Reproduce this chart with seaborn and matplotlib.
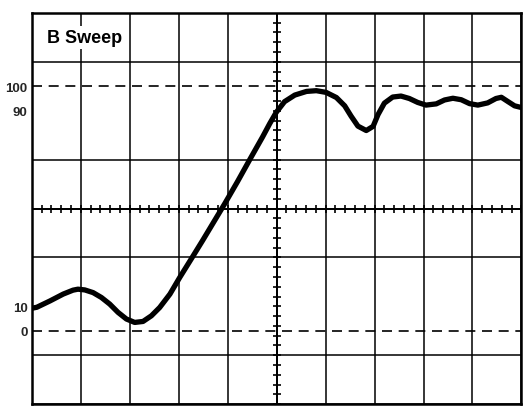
import numpy as np
import matplotlib
matplotlib.use("Agg")
import matplotlib.pyplot as plt
import seaborn as sns

# === trace (x in divisions, y in percent) ===
TRACE_X = [0.00, 0.10, 0.37, 0.64, 0.84, 0.94, 1.08, 1.25, 1.42, 1.59,
           1.76, 1.93, 2.10, 2.27, 2.44, 2.61, 2.82, 3.02, 3.29, 3.49,
           3.94, 4.20, 4.45, 4.71, 4.86, 4.99, 5.16, 5.37, 5.61, 5.81,
           6.01, 6.22, 6.39, 6.52, 6.66, 6.83, 6.97, 7.07, 7.20, 7.37,
           7.54, 7.71, 7.88, 8.05, 8.26, 8.43, 8.60, 8.77, 8.94, 9.11,
           9.31, 9.48, 9.59, 9.72, 9.86, 10.00]
TRACE_Y = [9.2, 9.6, 12.2, 15.0, 16.6, 17.0, 16.7, 15.6, 13.6, 10.9,
           7.5, 4.8, 3.4, 3.8, 6.1, 9.5, 15.0, 21.8, 30.5, 37.0,
           52.0, 61.0, 70.0, 79.2, 84.8, 89.3, 93.7, 96.4, 97.9, 98.2,
           97.5, 95.4, 92.0, 87.8, 83.7, 81.9, 83.6, 88.4, 93.1, 95.6,
           96.0, 95.0, 93.4, 92.3, 92.8, 94.4, 95.1, 94.5, 92.9, 92.3,
           93.2, 95.0, 95.5, 93.8, 92.0, 91.3]

LEVEL_TICKS = [0, 10, 90, 100]
LEVEL_LABELS = ["0", "10", "90", "100"]
REF_LEVELS = [0, 100]          # dashed reference lines
TITLE = "B Sweep"

# graticule: 10 x 8 divisions, one division = 20 %
X_MIN, X_MAX = 0, 10
Y_MIN, Y_MAX = -30, 130

sns.set_style("white")
plt.rcParams["font.family"] = ["Liberation Sans", "DejaVu Sans"]

fig = plt.figure(figsize=(5.23, 4.10), dpi=100)
ax = fig.add_axes([0.061, 0.012, 0.936, 0.954])

# grid lines on minor ticks
ax.set_xticks(np.arange(X_MIN, X_MAX + 1, 1), minor=True)
ax.set_yticks(np.arange(Y_MIN, Y_MAX + 1, 20), minor=True)
ax.grid(which="minor", color="black", lw=1.1)
ax.grid(which="major", visible=False)
ax.set_xticks([])
ax.set_yticks(LEVEL_TICKS)
ax.set_yticklabels(LEVEL_LABELS, fontsize=9.5, fontweight="bold")
ax.tick_params(axis="both", which="both", length=0)
ax.tick_params(axis="y", pad=3)

# center crosshair with fine marks
xc = (X_MIN + X_MAX) / 2
yc = (Y_MIN + Y_MAX) / 2
ax.axvline(xc, color="black", lw=1.4)
ax.axhline(yc, color="black", lw=1.4)
fine_x = np.arange(X_MIN, X_MAX + 0.01, 0.2)
fine_y = np.arange(Y_MIN, Y_MAX + 0.01, 4)
ax.plot(fine_x, np.full_like(fine_x, yc), ls="none", marker="|",
        ms=6, mew=1.2, color="black")
ax.plot(np.full_like(fine_y, xc), fine_y, ls="none", marker="_",
        ms=6, mew=1.2, color="black")

# dashed 0 % and 100 % lines
for lvl in REF_LEVELS:
    ax.axhline(lvl, color="black", lw=1.2, dashes=(6, 4))

# the trace
sns.lineplot(x=TRACE_X, y=TRACE_Y, sort=False, color="black", lw=3.8,
             ax=ax, solid_joinstyle="round", solid_capstyle="round")

ax.text(0.3, 120, TITLE, fontsize=13, fontweight="bold", va="center",
        ha="left", color="black",
        bbox=dict(facecolor="white", edgecolor="none", pad=2))

ax.set_xlim(X_MIN, X_MAX)
ax.set_ylim(Y_MIN, Y_MAX)
for sp in ax.spines.values():
    sp.set_visible(True)
    sp.set_color("black")
    sp.set_linewidth(1.8)

fig.savefig("out.png", dpi=100)
